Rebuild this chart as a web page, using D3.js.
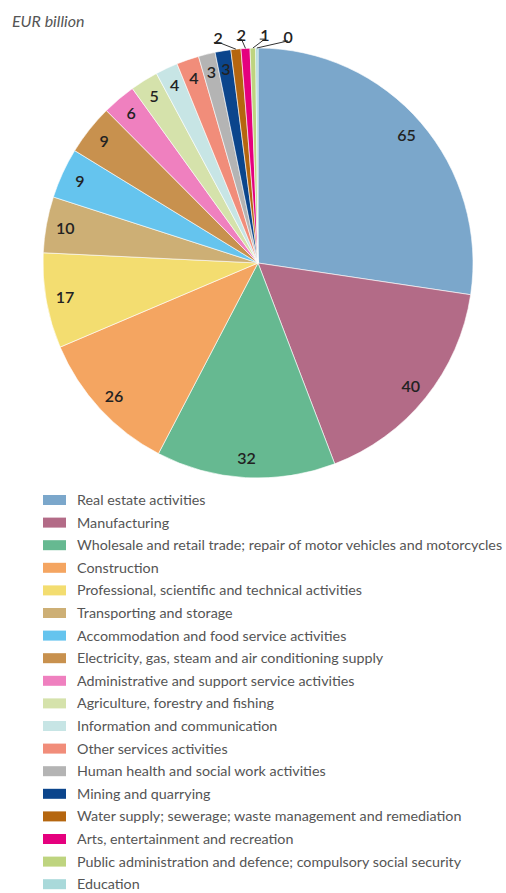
<!DOCTYPE html>
<html lang="en">
  <head>
    <meta charset="utf-8">
    <style>
      body { margin: 0; background: #fff; }
      svg { display: block; font-family: Lato, "Open Sans", sans-serif; }
      .unit { font-style: italic; font-size: 16px; fill: #555; }
      .slice-label { font-size: 16px; font-weight: 600; fill: #222; }
      .legend-label { font-size: 14.3px; fill: #555; }
      .leader { fill: none; stroke: #333; stroke-width: 1; }
    </style>
  </head>
  <body>
    <svg width="506" height="893">
      <text class="unit" x="12" y="27">EUR billion</text>
      <g class="pie" transform="translate(258, 263)"></g>
      <g class="legend" transform="translate(43, 500)"></g>
    </svg>

    <script src="https://cdn.jsdelivr.net/npm/d3@7"></script>
    <script>
      var categories = [
        "Real estate activities",
        "Manufacturing",
        "Wholesale and retail trade; repair of motor vehicles and motorcycles",
        "Construction",
        "Professional, scientific and technical activities",
        "Transporting and storage",
        "Accommodation and food service activities",
        "Electricity, gas, steam and air conditioning supply",
        "Administrative and support service activities",
        "Agriculture, forestry and fishing",
        "Information and communication",
        "Other services activities",
        "Human health and social work activities",
        "Mining and quarrying",
        "Water supply; sewerage; waste management and remediation",
        "Arts, entertainment and recreation",
        "Public administration and defence; compulsory social security",
        "Education"
      ];
      // EUR billion (small ones, labels are rounded)
      var values = [65, 40, 32, 26, 17, 10, 9, 9, 6, 5, 4, 4, 3, 2.8, 1.8, 1.6, 1.0, 0.4];
      var colors = [
        "#7ba7cb", "#b36b87", "#66b991", "#f4a561", "#f3dd70", "#cdaf75",
        "#65c4ee", "#c8914e", "#ef80bf", "#d5e2ab", "#c7e5e5", "#f18d7a",
        "#b4b4b4", "#0b458c", "#b5660f", "#e5007e", "#bed47f", "#a9d9da"
      ];

      var radius = 215, labelRadius = 196, outerLabelRadius = 228;
      var smallLimit = 2.5;

      var data = categories.map(function(c, i) {
        return { name: c, value: values[i], color: colors[i] };
      });

      var pie = d3.pie().sort(null).value(function(d) { return d.value; });
      var arcs = pie(data);

      var arc = d3.arc().innerRadius(0).outerRadius(radius);
      var labelArc = d3.arc().innerRadius(labelRadius).outerRadius(labelRadius);

      var g = d3.select(".pie");

      g.selectAll("path.slice")
        .data(arcs)
        .enter()
        .append("path")
        .attr("class", "slice")
        .attr("d", arc)
        .style("fill", function(d) { return d.data.color; })
        .style("stroke", "#fff")
        .style("stroke-width", 0.6);

      // labels inside the bigger slices
      var inside = arcs.filter(function(d) { return d.data.value >= smallLimit; });
      g.selectAll("text.inside")
        .data(inside)
        .enter()
        .append("text")
        .attr("class", "slice-label inside")
        .attr("transform", function(d) { return "translate(" + labelArc.centroid(d) + ")"; })
        .attr("text-anchor", "middle")
        .attr("dy", ".36em")
        .text(function(d) { return Math.round(d.data.value); });

      // small slices get spread out labels with leader lines
      var outside = arcs.filter(function(d) { return d.data.value < smallLimit; });
      var mids = outside.map(function(d) { return (d.startAngle + d.endAngle) / 2; });
      var midMean = d3.mean(mids);
      var step = 5.9 * Math.PI / 180;

      function polar(a, r) {
        return [Math.sin(a) * r, -Math.cos(a) * r];
      }

      outside.forEach(function(d, k) {
        var mid = mids[k];
        var target = midMean + 1.5 * Math.PI / 180 + (k - (outside.length - 1) / 2) * step;
        var p0 = polar(mid, radius);
        var p1 = polar(target, radius + 9);
        var side = target < 0 ? 1 : -1;
        var p2 = [p1[0] + side * 5, p1[1]];

        g.append("polyline")
          .attr("class", "leader")
          .attr("points", [p0, p1, p2].map(function(p) { return p.join(","); }).join(" "));

        var lp = polar(target, outerLabelRadius);
        g.append("text")
          .attr("class", "slice-label outside")
          .attr("x", lp[0])
          .attr("y", lp[1])
          .attr("text-anchor", "middle")
          .attr("dy", ".36em")
          .text(Math.round(d.data.value));
      });

      // legend
      var rowStep = 22.6;
      var rows = d3.select(".legend")
        .selectAll("g.row")
        .data(data)
        .enter()
        .append("g")
        .attr("class", "row")
        .attr("transform", function(d, i) { return "translate(0," + i * rowStep + ")"; });

      rows.append("rect")
        .attr("x", 0)
        .attr("y", -5)
        .attr("width", 23)
        .attr("height", 10)
        .style("fill", function(d) { return d.color; });

      rows.append("text")
        .attr("class", "legend-label")
        .attr("x", 34)
        .attr("dy", ".35em")
        .text(function(d) { return d.name; });
    </script>
  </body>
</html>
